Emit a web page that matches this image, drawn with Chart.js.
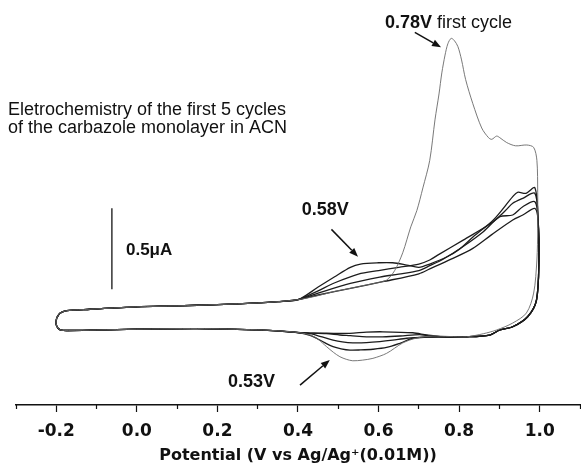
<!DOCTYPE html>
<html><head><meta charset="utf-8">
<script src="https://cdn.jsdelivr.net/npm/chart.js@4.4.1/dist/chart.umd.min.js"></script>
<style>html,body{margin:0;padding:0;background:#fff;}#wrap{width:581px;height:468px;}</style>
</head><body><div id="wrap"><canvas id="c" width="581" height="468"></canvas></div>
<script>
// ---- tick values / labels ----
const xTickValues = [-0.2, 0.0, 0.2, 0.4, 0.6, 0.8, 1.0];
const xTickLabels = ['-0.2', '0.0', '0.2', '0.4', '0.6', '0.8', '1.0'];
const xMinorTickValues = [-0.3, -0.1, 0.1, 0.3, 0.5, 0.7, 0.9, 1.1];

// ---- shared baseline (potential V, current uA) ----
const baseFwdE = [-0.199, -0.191, -0.174, -0.116, 0.0, 0.1, 0.2, 0.3, 0.35, 0.4];
const baseFwdI = [-0.003, 0.026, 0.042, 0.051, 0.066, 0.072, 0.08, 0.09, 0.098, 0.11];
const baseRevE = [0.405, 0.35, 0.3, 0.15, 0.0, -0.1, -0.17, -0.188, -0.196, -0.2007, -0.199];
const baseRevI = [-0.094, -0.082, -0.076, -0.068, -0.072, -0.077, -0.08, -0.078, -0.066, -0.036, -0.003];

// ---- cycle 1 (first cycle, 0.78 V peak) ----
const c1E = [0.45, 0.487, 0.53, 0.57, 0.6, 0.62, 0.64, 0.66, 0.68, 0.695, 0.71, 0.727, 0.74, 0.75, 0.757, 0.765, 0.772, 0.78, 0.788, 0.797, 0.806, 0.816, 0.834, 0.856, 0.873, 0.881, 0.893, 0.901, 0.918, 0.94, 0.968, 0.985, 0.993, 0.995, 0.995, 0.993, 0.985, 0.967, 0.933, 0.893, 0.86, 0.818, 0.775, 0.735, 0.694, 0.66, 0.62, 0.586, 0.56, 0.536, 0.52, 0.504, 0.488, 0.471, 0.45, 0.43];
const c1I = [0.135, 0.159, 0.18, 0.201, 0.216, 0.231, 0.29, 0.40, 0.56, 0.66, 0.80, 0.97, 1.22, 1.38, 1.51, 1.62, 1.69, 1.723, 1.71, 1.672, 1.59, 1.47, 1.32, 1.17, 1.11, 1.10, 1.12, 1.11, 1.08, 1.06, 1.065, 1.05, 0.97, 0.77, 0.55, 0.355, 0.151, 0.028, -0.034, -0.077, -0.10, -0.119, -0.117, -0.114, -0.127, -0.157, -0.221, -0.252, -0.263, -0.267, -0.258, -0.242, -0.215, -0.18, -0.135, -0.108];

// ---- shared switching-potential turn for cycles 2-5 ----
const turnE = [0.996, 0.998, 0.992, 0.97, 0.933, 0.901, 0.876, 0.818, 0.76];
const turnI = [0.60, 0.355, 0.108, 0.005, -0.057, -0.077, -0.108, -0.119, -0.119];

// ---- cycle 2 ----
const c2E = [0.45, 0.49, 0.53, 0.555, 0.6, 0.635, 0.67, 0.70, 0.727, 0.77, 0.80, 0.835, 0.885, 0.933, 0.945, 0.966, 0.988];
const c2I = [0.188, 0.25, 0.31, 0.33, 0.338, 0.338, 0.324, 0.31, 0.33, 0.375, 0.42, 0.499, 0.602, 0.746, 0.773, 0.767, 0.801];
const c2rE = [0.72, 0.685, 0.653, 0.62, 0.586, 0.555, 0.529, 0.507, 0.487, 0.466, 0.446, 0.43];
const c2rI = [-0.121, -0.128, -0.159, -0.185, -0.196, -0.2, -0.201, -0.193, -0.18, -0.155, -0.128, -0.11];
// ---- cycle 3 ----
const c3E = [0.45, 0.49, 0.55, 0.6, 0.65, 0.70, 0.727, 0.75, 0.81, 0.88, 0.915, 0.933, 0.958, 0.988];
const c3I = [0.165, 0.213, 0.268, 0.29, 0.31, 0.33, 0.355, 0.39, 0.478, 0.583, 0.66, 0.705, 0.736, 0.767];
const c3rE = [0.72, 0.67, 0.635, 0.603, 0.57, 0.536, 0.51, 0.487, 0.46, 0.43];
const c3rI = [-0.121, -0.128, -0.14, -0.149, -0.155, -0.156, -0.15, -0.139, -0.12, -0.10];
// ---- cycle 4 ----
const c4E = [0.45, 0.53, 0.603, 0.65, 0.70, 0.727, 0.76, 0.809, 0.86, 0.901, 0.933, 0.958, 0.988];
const c4I = [0.151, 0.211, 0.25, 0.268, 0.29, 0.32, 0.36, 0.437, 0.53, 0.622, 0.633, 0.684, 0.715];
const c4rE = [0.72, 0.702, 0.653, 0.61, 0.57, 0.53, 0.504, 0.47, 0.43];
const c4rI = [-0.112, -0.105, -0.114, -0.119, -0.119, -0.112, -0.108, -0.10, -0.096];
// ---- cycle 5 ----
const c5E = [0.45, 0.53, 0.61, 0.70, 0.727, 0.78, 0.834, 0.88, 0.933, 0.958, 0.988];
const c5I = [0.139, 0.18, 0.221, 0.27, 0.30, 0.36, 0.427, 0.51, 0.602, 0.633, 0.674];
const c5rE = [0.72, 0.685, 0.611, 0.57, 0.529, 0.47, 0.43];
const c5rI = [-0.108, -0.094, -0.088, -0.09, -0.098, -0.097, -0.096];

// ---- scale bar (0.5 uA) ----
const scaleBarE = [-0.062, -0.062];
const scaleBarI = [0.175, 0.675];

// ---- annotation texts ----
const textItems = [
  {at: [0.616, 1.787], runs: [{t: '0.78V', b: true, s: 18}, {t: ' first cycle', b: false, s: 18}]},
  {at: [-0.32, 1.25], runs: [{t: 'Eletrochemistry of the first 5 cycles', b: false, s: 18}]},
  {at: [-0.32, 1.137], runs: [{t: 'of the carbazole monolayer in ACN', b: false, s: 18}]},
  {at: [-0.027, 0.383], runs: [{t: '0.5μA', b: true, s: 17}]},
  {at: [0.409, 0.635], runs: [{t: '0.58V', b: true, s: 18}]},
  {at: [0.226, -0.429], runs: [{t: '0.53V', b: true, s: 18}]}
];
const arrows = [
  {from: [0.690, 1.760], to: [0.755, 1.668]},
  {from: [0.483, 0.544], to: [0.549, 0.375]},
  {from: [0.405, -0.417], to: [0.479, -0.262]}
];

function pts(E, I) { return E.map((e, i) => ({x: e, y: I[i]})); }
function thickLoop(fE, fI, rE, rI) {
  return [].concat(pts(baseFwdE, baseFwdI), pts(fE, fI), pts(turnE, turnI), pts(rE, rI), pts(baseRevE, baseRevI));
}
const thin = [].concat(pts(baseFwdE, baseFwdI), pts(c1E, c1I), pts(baseRevE, baseRevI));

const thickStyle = {borderColor: '#1c1c1c', borderWidth: 1.3, pointRadius: 0, showLine: true, tension: 0.3, fill: false, xAxisID: 'x', yAxisID: 'y'};

const annotPlugin = {
  id: 'annot',
  afterDraw(chart) {
    const ctx = chart.ctx, X = chart.scales.x, Y = chart.scales.y;
    const px = v => X.getPixelForValue(v), py = v => Y.getPixelForValue(v);
    ctx.save();
    ctx.fillStyle = '#111'; ctx.strokeStyle = '#111';
    ctx.textBaseline = 'alphabetic'; ctx.textAlign = 'left';
    for (const it of textItems) {
      let x = px(it.at[0]); const y = py(it.at[1]);
      for (const r of it.runs) {
        ctx.font = (r.b ? 'bold ' : '') + r.s + "px 'Liberation Sans', Arial, sans-serif";
        ctx.fillText(r.t, x, y);
        x += ctx.measureText(r.t).width;
      }
    }
    for (const a of arrows) {
      const x1 = px(a.from[0]), y1 = py(a.from[1]), x2 = px(a.to[0]), y2 = py(a.to[1]);
      const ang = Math.atan2(y2 - y1, x2 - x1), L = 9, W = 3.5;
      const bx = x2 - L * Math.cos(ang), by = y2 - L * Math.sin(ang);
      ctx.lineWidth = 1.5;
      ctx.beginPath(); ctx.moveTo(x1, y1); ctx.lineTo(bx, by); ctx.stroke();
      ctx.beginPath(); ctx.moveTo(x2, y2);
      ctx.lineTo(bx - W * Math.sin(ang), by + W * Math.cos(ang));
      ctx.lineTo(bx + W * Math.sin(ang), by - W * Math.cos(ang));
      ctx.closePath(); ctx.fill();
    }
    ctx.restore();
  }
};

new Chart(document.getElementById('c'), {
  type: 'scatter',
  data: {
    datasets: [
      {label: 'cycle 1', data: thin, borderColor: '#6a6a6a', borderWidth: 0.9, pointRadius: 0, showLine: true, tension: 0.3, fill: false, xAxisID: 'x', yAxisID: 'y'},
      Object.assign({label: 'cycle 2', data: thickLoop(c2E, c2I, c2rE, c2rI)}, thickStyle),
      Object.assign({label: 'cycle 3', data: thickLoop(c3E, c3I, c3rE, c3rI)}, thickStyle),
      Object.assign({label: 'cycle 4', data: thickLoop(c4E, c4I, c4rE, c4rI)}, thickStyle),
      Object.assign({label: 'cycle 5', data: thickLoop(c5E, c5I, c5rE, c5rI)}, thickStyle),
      {label: 'scale', data: pts(scaleBarE, scaleBarI), borderColor: '#333', borderWidth: 1.5, pointRadius: 0, showLine: true, tension: 0, xAxisID: 'x', yAxisID: 'y'}
    ]
  },
  options: {
    responsive: false,
    animation: false,
    devicePixelRatio: 1,
    layout: {padding: {left: 16, right: 1, top: 0, bottom: 0}},
    plugins: {legend: {display: false}, tooltip: {enabled: false}},
    scales: {
      x: {
        type: 'linear', position: 'bottom', min: -0.3, max: 1.1,
        afterBuildTicks: (s) => { s.ticks = xTickValues.map(v => ({value: v})); },
        afterFit: (s) => { s.height = 63; },
        ticks: {
          autoSkip: false, maxRotation: 0, padding: 9, color: '#111',
          font: {family: "'DejaVu Sans', sans-serif", size: 17, weight: 'bold'},
          callback: (v, i) => xTickLabels[i]
        },
        grid: {drawOnChartArea: false, drawTicks: true, tickLength: 7, tickWidth: 1.2, tickColor: '#111'},
        border: {display: true, color: '#111', width: 1.5},
        title: {
          display: true, text: 'Potential (V vs Ag/Ag⁺(0.01M))', color: '#111',
          font: {family: "'DejaVu Sans', sans-serif", size: 16, weight: 'bold'},
          padding: {top: 0, bottom: 2.4}
        }
      },
      xMinor: {
        type: 'linear', axis: 'x', position: {y: -0.54}, min: -0.3, max: 1.1,
        afterBuildTicks: (s) => { s.ticks = xMinorTickValues.map(v => ({value: v})); },
        ticks: {display: false},
        grid: {drawOnChartArea: false, drawTicks: true, tickLength: 4, tickWidth: 1.2, tickColor: '#111'},
        border: {display: false}
      },
      y: {type: 'linear', min: -0.54, max: 1.96, display: false}
    }
  },
  plugins: [annotPlugin]
});
</script></body></html>
